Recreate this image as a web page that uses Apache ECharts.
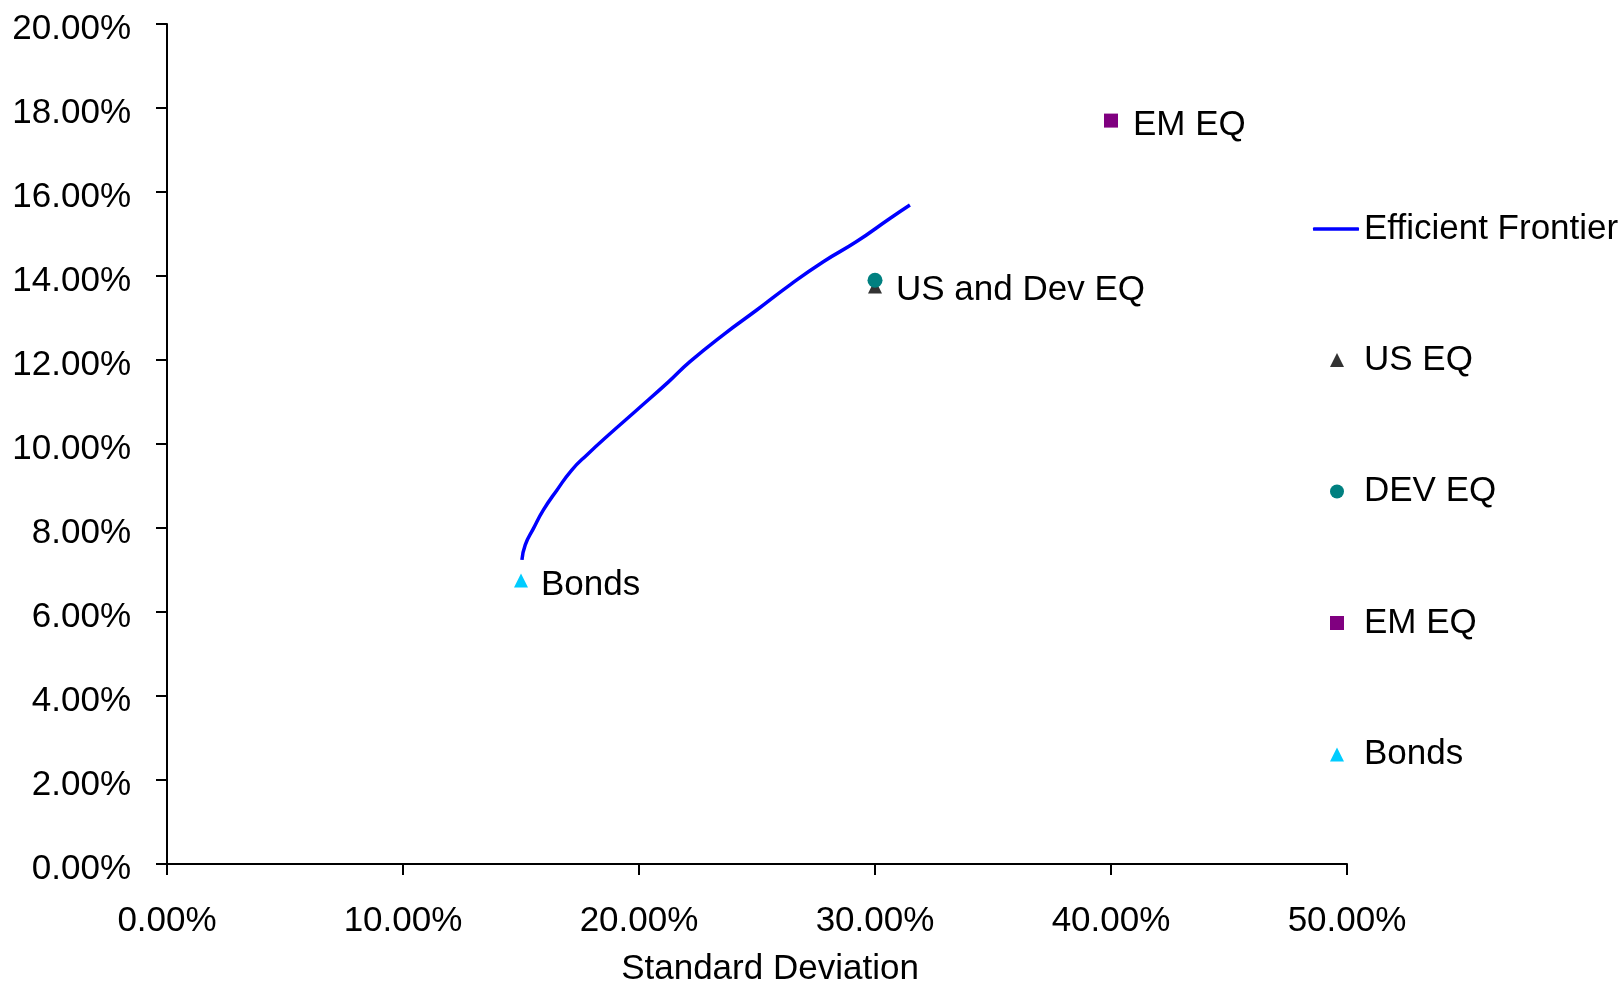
<!DOCTYPE html>
<html>
<head>
<meta charset="utf-8">
<title>Efficient Frontier</title>
<script src="https://cdn.jsdelivr.net/npm/echarts@6/dist/echarts.min.js"></script>
<style>
  html, body { margin: 0; padding: 0; background: #ffffff; }
  #chart { width: 1623px; height: 983px; }
</style>
</head>
<body>
<div id="chart"></div>
<script>
// Efficient frontier: standard deviation (%) vs expected return (%)
var frontierRisk   = [15.04, 15.18, 15.53, 15.95, 16.52, 17.15, 17.79, 18.78, 19.91, 21.25, 22.16, 23.57, 24.99, 26.40, 27.81, 29.22, 30.63, 31.48];
var frontierReturn = [7.24, 7.60, 7.99, 8.43, 8.90, 9.38, 9.74, 10.25, 10.81, 11.48, 11.96, 12.60, 13.19, 13.79, 14.34, 14.82, 15.37, 15.69];

// Individual asset classes [standard deviation, return]
var usEq   = [30.0, 13.75];
var devEq  = [30.0, 13.90];
var emEq   = [40.0, 17.70];
var bonds  = [15.0, 6.75];

var xTicks = [0, 10, 20, 30, 40, 50];
var yTicks = [0, 2, 4, 6, 8, 10, 12, 14, 16, 18, 20];

var FONT = '"Liberation Sans", Arial, sans-serif';
var FS = 35;

var frontierData = frontierRisk.map(function (r, i) { return [r, frontierReturn[i]]; });

function pct(v) { return Number(v).toFixed(2) + '%'; }

var axisLineStyle = { color: '#000000', width: 2 };

var chart = echarts.init(document.getElementById('chart'), null, { renderer: 'canvas' });
chart.setOption({
  animation: false,
  backgroundColor: '#ffffff',
  textStyle: { fontFamily: FONT },
  grid: { left: 167, top: 24, width: 1180, height: 840, containLabel: false, outerBoundsMode: 'none' },
  xAxis: {
    type: 'value',
    min: xTicks[0],
    max: xTicks[xTicks.length - 1],
    interval: 10,
    name: 'Standard Deviation',
    nameLocation: 'middle',
    nameGap: 88,
    nameTextStyle: { fontFamily: FONT, fontSize: FS, color: '#000000', padding: [0, 0, 0, 26] },
    axisLine: { show: true, onZero: false, lineStyle: axisLineStyle },
    axisTick: { show: true, inside: false, length: 11, lineStyle: axisLineStyle },
    axisLabel: { fontFamily: FONT, fontSize: FS, color: '#000000', margin: 40, formatter: pct },
    splitLine: { show: false }
  },
  yAxis: {
    type: 'value',
    min: yTicks[0],
    max: yTicks[yTicks.length - 1],
    interval: 2,
    axisLine: { show: true, onZero: false, lineStyle: axisLineStyle },
    axisTick: { show: true, inside: false, length: 11, lineStyle: axisLineStyle },
    axisLabel: {
      fontFamily: FONT, fontSize: FS, color: '#000000', margin: 36,
      verticalAlign: 'top', lineHeight: 10, formatter: pct
    },
    splitLine: { show: false }
  },
  legend: [
    {
      data: [{ name: 'Efficient Frontier', icon: 'roundRect' }],
      orient: 'vertical',
      left: 1313,
      top: 211,
      padding: 0,
      itemWidth: 46,
      itemHeight: 3.5,
      itemStyle: { color: '#0000ff', borderWidth: 0 },
      textStyle: { fontFamily: FONT, fontSize: FS, color: '#000000', lineHeight: 36 }
    },
    {
      data: ['US EQ', 'DEV EQ', 'EM EQ', 'Bonds'],
      orient: 'vertical',
      left: 1330,
      top: 342,
      padding: 0,
      itemWidth: 14,
      itemHeight: 14,
      itemGap: 95.5,
      textStyle: { fontFamily: FONT, fontSize: FS, color: '#000000', lineHeight: 36, padding: [0, 0, 0, 15] }
    }
  ],
  series: [
    {
      name: 'Efficient Frontier',
      type: 'line',
      data: frontierData,
      smooth: 0.5,
      symbol: 'none',
      lineStyle: { color: '#0000ff', width: 3.5 },
      itemStyle: { color: '#0000ff' },
      z: 2
    },
    {
      name: 'US EQ',
      type: 'scatter',
      data: [usEq],
      symbol: 'triangle',
      symbolSize: 14,
      itemStyle: { color: '#333333', opacity: 1 },
      label: {
        show: true, position: 'right', distance: 14, offset: [0, 4],
        formatter: 'US and Dev EQ',
        fontFamily: FONT, fontSize: FS, color: '#000000'
      },
      z: 3
    },
    {
      name: 'DEV EQ',
      type: 'scatter',
      data: [devEq],
      symbol: 'circle',
      symbolSize: 15,
      itemStyle: { color: '#008080', opacity: 1 },
      z: 4
    },
    {
      name: 'EM EQ',
      type: 'scatter',
      data: [emEq],
      symbol: 'rect',
      symbolSize: 14,
      itemStyle: { color: '#800080', opacity: 1 },
      label: {
        show: true, position: 'right', distance: 15, offset: [0, 5],
        formatter: 'EM EQ',
        fontFamily: FONT, fontSize: FS, color: '#000000'
      },
      z: 3
    },
    {
      name: 'Bonds',
      type: 'scatter',
      data: [bonds],
      symbol: 'triangle',
      symbolSize: 14,
      itemStyle: { color: '#00ccff', opacity: 1 },
      label: {
        show: true, position: 'right', distance: 13, offset: [0, 5],
        formatter: 'Bonds',
        fontFamily: FONT, fontSize: FS, color: '#000000'
      },
      z: 3
    }
  ]
});
</script>
</body>
</html>
